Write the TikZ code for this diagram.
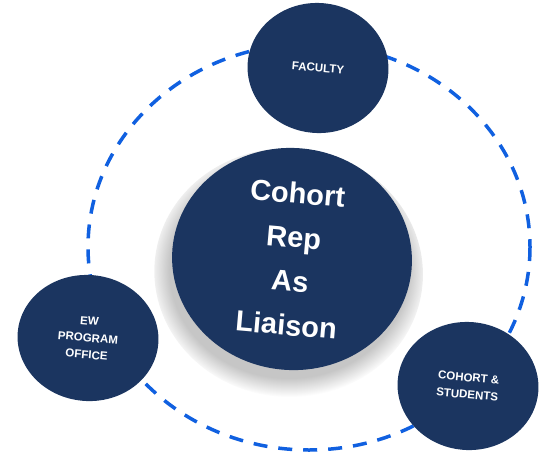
\documentclass[tikz,border=0pt]{standalone}
\usepackage{fontspec}
\setmainfont{Liberation Sans}
\usetikzlibrary{shapes.geometric,shadows}
\definecolor{navy}{RGB}{27,53,96}
\definecolor{ringblue}{RGB}{16,96,224}

\begin{document}
\begin{tikzpicture}[x=1pt,y=-1pt,
    bubble/.style={ellipse, fill=navy, text=white, inner sep=0, align=center, rotate=-5,
        font=\bfseries\fontsize{11.5}{17}\selectfont},
    ring/.style={ringblue, line width=3.5pt, dash pattern=on 14pt off 11pt}]
                \newcommand{\ringrx}{221}
                \newcommand{\ringry}{203}

                \useasboundingbox (0,0) rectangle (545,453);

                % Draw dashed ring
                \draw[ring] (309,247) ellipse [x radius=\ringrx, y radius=\ringry];

                % Draw centre node
                \node[bubble, minimum width=240pt, minimum height=222pt,
                    circular drop shadow={shadow xshift=-3pt, shadow yshift=-12pt, shadow scale=1.12, opacity=0.45},
                    font=\bfseries\fontsize{29}{44}\selectfont] (rep) at (292,259) {Cohort\\Rep\\As\\Liaison};

                % Draw outer nodes
                \node[bubble, minimum width=141pt, minimum height=130pt] (faculty) at (318,68) {FACULTY};
                \node[bubble, minimum width=141pt, minimum height=126pt] (office) at (88,338) {EW\\PROGRAM\\OFFICE};
                \node[bubble, minimum width=141pt, minimum height=128pt] (students) at (468,386) {COHORT \&\\STUDENTS};
            \end{tikzpicture}
\end{document}
